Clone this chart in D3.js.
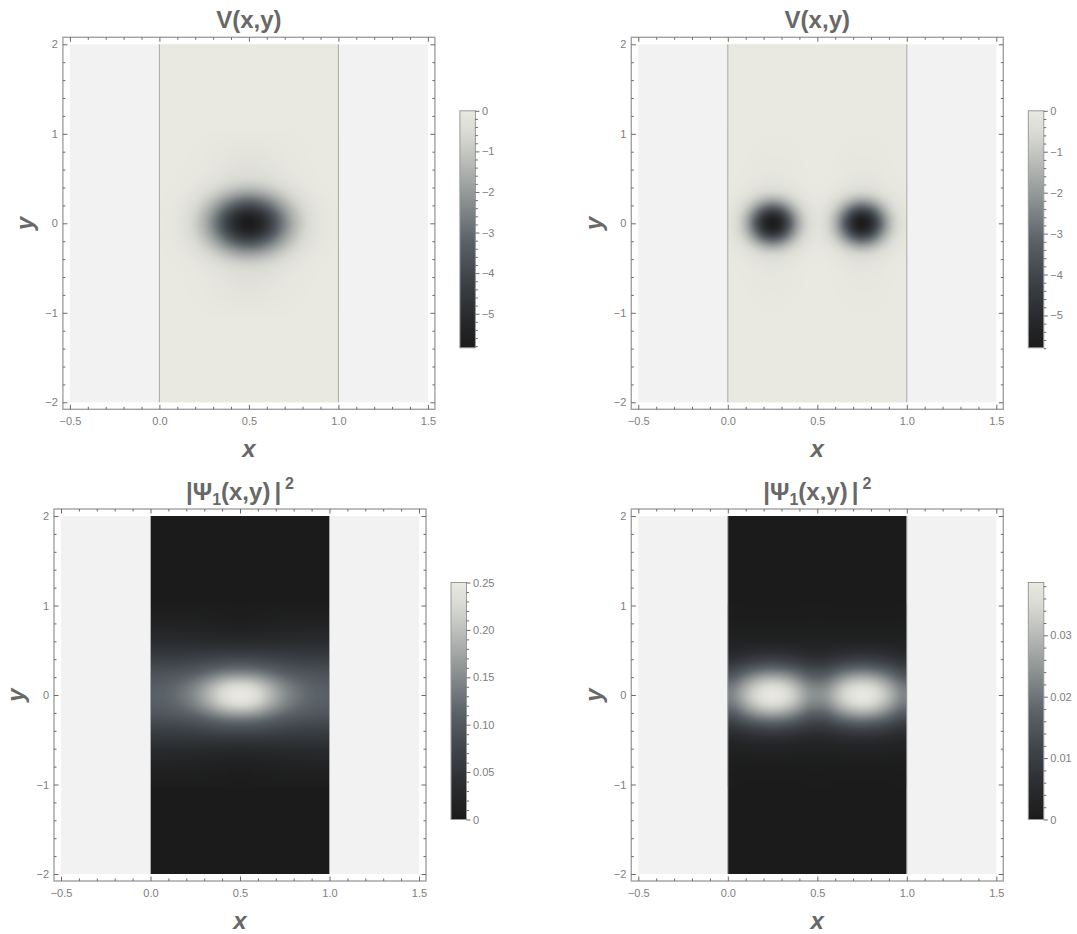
<!DOCTYPE html>
<meta charset="utf-8">
<script src="https://d3js.org/d3.v7.min.js"></script>
<style>
  body { margin: 0; background: #fff; }
  text { font-family: "Liberation Sans", Arial, sans-serif; }
</style>
<div id="chart"></div>
<script>
// sample grid: x from 0 to 1 in steps of 0.025, y from 1 down to -1 in steps of 0.05
var sampleX = d3.range(41).map(i => i / 40);
var sampleY = d3.range(41).map(i => 1 - i / 20);

// --- single well potential: depth and normalized profiles through the well centre
var wellDepth1 = -5.84;
var vShapeX1 = [.0045,.0076,.0125,.02,.031,.048,.071,.102,.143,.195,.259,.335,.421,.515,.615,.713,.805,.885,.947,.987,
                1,.987,.947,.885,.805,.713,.615,.515,.421,.335,.259,.195,.143,.102,.071,.048,.031,.02,.0125,.0076,.0045];
var vShapeY1 = [.01,.014,.019,.026,.033,.038,.043,.05,.06,.075,.1,.145,.21,.3,.41,.535,.665,.79,.9,.972,
                1,.972,.9,.79,.665,.535,.41,.3,.21,.145,.1,.075,.06,.05,.043,.038,.033,.026,.019,.014,.01];

// --- double well potential
var wellDepth2 = -5.79;
var vShapeX2 = [.025,.05,.094,.163,.264,.397,.553,.717,.863,.964,1,.964,.863,.717,.553,.397,.265,.165,.1,.062,
                .05,.062,.1,.165,.265,.397,.553,.717,.863,.964,1,.964,.863,.717,.553,.397,.264,.163,.094,.05,.025];
var vShapeY2 = [.003,.004,.005,.006,.008,.01,.012,.015,.018,.022,.03,.04,.065,.109,.196,.322,.485,.665,.834,.956,
                1,.956,.834,.665,.485,.322,.196,.109,.065,.04,.03,.022,.018,.015,.012,.01,.008,.006,.005,.004,.003];

// --- |psi|^2 for the single well: profile at the x=0 edge, through the peak (y), along y=0 (x)
var psiBandY1 = [.005,.007,.009,.012,.016,.02,.025,.03,.036,.043,.05,.058,.066,.075,.083,.09,.097,.102,.106,.109,
                 .11,.109,.106,.102,.097,.09,.083,.075,.066,.058,.05,.043,.036,.03,.025,.02,.016,.012,.009,.007,.005];
var psiPeakY1 = [.003,.004,.005,.007,.01,.013,.018,.024,.032,.042,.054,.068,.083,.1,.12,.145,.175,.205,.23,.245,
                 .25,.245,.23,.205,.175,.145,.12,.1,.083,.068,.054,.042,.032,.024,.018,.013,.01,.007,.005,.004,.003];
var psiPeakX1 = [.11,.111,.112,.114,.117,.12,.125,.13,.137,.145,.154,.165,.177,.19,.203,.216,.228,.238,.245,.249,
                 .25,.249,.245,.238,.228,.216,.203,.19,.177,.165,.154,.145,.137,.13,.125,.12,.117,.114,.112,.111,.11];

// --- |psi|^2 for the double well
var psiBandY2 = [.0002,.0003,.0004,.0005,.0007,.0009,.0012,.0016,.0022,.003,.004,.0053,.007,.009,.0115,.014,.0165,.019,.021,.0225,
                 .023,.0225,.021,.019,.0165,.014,.0115,.009,.007,.0053,.004,.003,.0022,.0016,.0012,.0009,.0007,.0005,.0004,.0003,.0002];
var psiPeakY2 = [.0001,.0002,.0003,.0004,.0006,.0009,.0013,.0019,.0027,.0039,.0055,.0077,.0105,.014,.0182,.0228,.0275,.032,.0355,.0378,
                 .0386,.0378,.0355,.032,.0275,.0228,.0182,.014,.0105,.0077,.0055,.0039,.0027,.0019,.0013,.0009,.0006,.0004,.0003,.0002,.0001];
var psiPeakX2 = [.022,.0228,.0245,.027,.0296,.032,.0342,.036,.0374,.0383,.0386,.0383,.0374,.036,.0342,.032,.0296,.0272,.0252,.0243,
                 .024,.0243,.0252,.0272,.0296,.032,.0342,.036,.0374,.0383,.0386,.0383,.0374,.036,.0342,.032,.0296,.027,.0245,.0228,.022];

// tick labels
var xTicks = [-0.5, 0, 0.5, 1, 1.5];
var yTicks = [-2, -1, 0, 1, 2];
var vBarTicks = [0, -1, -2, -3, -4, -5];
var psiBarTicks1 = [0, 0.05, 0.1, 0.15, 0.2, 0.25];
var psiBarTicks2 = [0, 0.01, 0.02, 0.03];

// gray tones colour scheme (dark -> light)
var grayStops = [0, .15, .3, .45, .6, .75, .9, 1];
var grayColors = ["#1b1b1b", "#2b2d30", "#40454a", "#5b6267", "#858b8c", "#b0b3b0", "#d8d9d3", "#e9e9e1"];
var gray = d3.scaleLinear().domain(grayStops).range(grayColors).clamp(true);

// build the value grids (rows = sampleY, columns = sampleX)
function productGrid(depth, shapeX, shapeY) {
  return shapeY.map(gy => shapeX.map(gx => depth * gx * gy));
}
function blendGrid(bandY, peakY, peakX) {
  var mid = (bandY.length - 1) / 2;
  var b0 = bandY[mid], p0 = peakY[mid];
  return bandY.map((b, j) => peakX.map(px => b + (px - b0) / (p0 - b0) * (peakY[j] - b)));
}

var panels = [
  {title: "V", grid: productGrid(wellDepth1, vShapeX1, vShapeY1), domain: [wellDepth1, 0],
   bar: vBarTicks, minor: 0.2, fmt: d3.format("d"), left: 69.9, top: 44.3},
  {title: "V", grid: productGrid(wellDepth2, vShapeX2, vShapeY2), domain: [wellDepth2, 0],
   bar: vBarTicks, minor: 0.2, fmt: d3.format("d"), left: 638.3, top: 44.3},
  {title: "psi", grid: blendGrid(psiBandY1, psiPeakY1, psiPeakX1), domain: [0, 0.25],
   bar: psiBarTicks1, minor: 0.01, fmt: d => d === 0 ? "0" : d3.format(".2f")(d), left: 61, top: 516},
  {title: "psi", grid: blendGrid(psiBandY2, psiPeakY2, psiPeakX2), domain: [0, 0.0386],
   bar: psiBarTicks2, minor: 0.002, fmt: d => d === 0 ? "0" : d3.format(".2f")(d), left: 638.3, top: 516}
];

var W = 358, H = 358, pad = 7;
var textGray = "#7d7d7d", titleGray = "#686868";

var svg = d3.select("#chart").append("svg")
    .attr("width", 1077)
    .attr("height", 934);
var defs = svg.append("defs");

// one gradient for all colour bars
var grad = defs.append("linearGradient").attr("id", "graybar")
    .attr("x1", 0).attr("y1", 1).attr("x2", 0).attr("y2", 0);
grad.selectAll("stop").data(grayStops).enter().append("stop")
    .attr("offset", d => d)
    .attr("stop-color", (d, i) => grayColors[i]);

function styleAxis(a) {
  a.select(".domain").remove();
  a.selectAll("line").attr("stroke", "#6a6a6a");
  a.selectAll("text").attr("fill", textGray).style("font-size", "11px")
    .style("font-family", "'Liberation Sans', Arial, sans-serif");
}

function minorOf(range, step, major) {
  var n = Math.round((range[1] - range[0]) / step);
  return d3.range(n + 1).map(i => range[0] + i * step)
    .filter(v => !major.some(m => Math.abs(m - v) < step / 10));
}

panels.forEach(function(p, k) {
  var g = svg.append("g").attr("transform", "translate(" + p.left + "," + p.top + ")");

  var x = d3.scaleLinear().domain([-0.5, 1.5]).range([0, W]);
  var y = d3.scaleLinear().domain([-2, 2]).range([H, 0]);
  var lo = p.domain[0], hi = p.domain[1];
  var colorOf = v => gray((v - lo) / (hi - lo));

  // frame and plot background
  g.append("rect").attr("x", -pad).attr("y", -pad).attr("width", W + 2 * pad).attr("height", H + 2 * pad)
    .attr("fill", "#fff").attr("stroke", "#a2a2a2").attr("stroke-width", 1.4);
  g.append("rect").attr("width", W).attr("height", H).attr("fill", "#f2f2f2");

  // the region 0<=x<=1
  var clipId = "clip" + k;
  defs.append("clipPath").attr("id", clipId).append("rect")
    .attr("x", x(0)).attr("y", y(2)).attr("width", x(1) - x(0)).attr("height", y(-2) - y(2));
  g.append("rect")
    .attr("x", x(0)).attr("y", y(2)).attr("width", x(1) - x(0)).attr("height", y(-2) - y(2))
    .attr("fill", colorOf(p.title === "V" ? 0 : lo));

  // draw the sampled grid into a small canvas, then let the canvas smooth it up
  var nx = sampleX.length, ny = sampleY.length;
  var small = document.createElement("canvas");
  small.width = nx; small.height = ny;
  var sctx = small.getContext("2d");
  var img = sctx.createImageData(nx, ny);
  p.grid.forEach(function(row, j) {
    row.forEach(function(v, i) {
      var c = d3.rgb(colorOf(v)), o = 4 * (j * nx + i);
      img.data[o] = c.r; img.data[o + 1] = c.g; img.data[o + 2] = c.b; img.data[o + 3] = 255;
    });
  });
  sctx.putImageData(img, 0, 0);

  var hx = (sampleX[1] - sampleX[0]) / 2, hy = (sampleY[0] - sampleY[1]) / 2;
  var ix0 = x(sampleX[0] - hx), ix1 = x(sampleX[nx - 1] + hx);
  var iy0 = y(sampleY[0] + hy), iy1 = y(sampleY[ny - 1] - hy);
  var big = document.createElement("canvas");
  big.width = Math.round((ix1 - ix0) * 2); big.height = Math.round((iy1 - iy0) * 2);
  var bctx = big.getContext("2d");
  bctx.imageSmoothingEnabled = true;
  bctx.imageSmoothingQuality = "high";
  bctx.drawImage(small, 0, 0, big.width, big.height);

  g.append("image")
    .attr("href", big.toDataURL())
    .attr("x", ix0).attr("y", iy0)
    .attr("width", ix1 - ix0).attr("height", iy1 - iy0)
    .attr("preserveAspectRatio", "none")
    .attr("clip-path", "url(#" + clipId + ")");

  // boundary of the region
  g.selectAll(".edge").data([0, 1]).enter().append("line")
    .attr("x1", d => x(d)).attr("x2", d => x(d))
    .attr("y1", y(2)).attr("y2", y(-2))
    .attr("stroke", "#a8a8a8").attr("stroke-width", 1);

  // frame ticks, pointing inward
  var xMinor = minorOf([-0.5, 1.5], 0.1, xTicks);
  var yMinor = minorOf([-2, 2], 0.2, yTicks);
  var sides = [
    {f: d3.axisBottom, s: x, t: "translate(0," + (H + pad) + ")", lab: true},
    {f: d3.axisTop, s: x, t: "translate(0," + (-pad) + ")", lab: false},
    {f: d3.axisLeft, s: y, t: "translate(" + (-pad) + ",0)", lab: true},
    {f: d3.axisRight, s: y, t: "translate(" + (W + pad) + ",0)", lab: false}
  ];
  sides.forEach(function(sd) {
    var isX = sd.s === x;
    var major = sd.f(sd.s).tickValues(isX ? xTicks : yTicks).tickSize(-4.5)
      .tickPadding(isX ? 8 : 5)
      .tickFormat(sd.lab ? (isX ? d3.format(".1f") : d3.format("d")) : "");
    g.append("g").attr("transform", sd.t).call(major).call(styleAxis);
    var minor = sd.f(sd.s).tickValues(isX ? xMinor : yMinor).tickSize(-2.5).tickFormat("");
    g.append("g").attr("transform", sd.t).call(minor).call(styleAxis);
  });

  // titles and axis labels
  var title = g.append("text").attr("x", W / 2).attr("y", -16)
    .attr("text-anchor", "middle").attr("fill", titleGray)
    .style("font-size", "24px").style("font-weight", "bold");
  if (p.title === "V") {
    title.text("V(x,y)");
  } else {
    title.append("tspan").text("|\u03A8");
    title.append("tspan").attr("dy", 5).style("font-size", "16px").text("1");
    title.append("tspan").attr("dy", -5).text("(x,y)");
    title.append("tspan").attr("dx", 4).text("|");
    title.append("tspan").attr("dx", 4).attr("dy", -11).style("font-size", "16px").text("2");
  }
  g.append("text").attr("x", W / 2).attr("y", H + 55)
    .attr("text-anchor", "middle").attr("fill", titleGray)
    .style("font-size", "24px").style("font-weight", "bold").style("font-style", "italic")
    .text("x");
  g.append("text").attr("transform", "translate(-45," + (H / 2) + ") rotate(-90)")
    .attr("dy", "0.35em")
    .attr("text-anchor", "middle").attr("fill", titleGray)
    .style("font-size", "24px").style("font-weight", "bold").style("font-style", "italic")
    .text("y");

  // colour bar
  var bw = 15.5, bh = 237;
  var cb = g.append("g").attr("transform", "translate(390," + 66.5 + ")");
  cb.append("rect").attr("width", bw).attr("height", bh)
    .attr("fill", "url(#graybar)").attr("stroke", "#9a9a9a").attr("stroke-width", 1);
  var c = d3.scaleLinear().domain(p.domain).range([bh, 0]);
  var cMinor = minorOf(p.domain[0] < 0 ? [-5.8, 0] : [0, Math.floor(hi / p.minor) * p.minor], p.minor, p.bar);
  cb.append("g").attr("transform", "translate(" + bw + ",0)")
    .call(d3.axisRight(c).tickValues(p.bar).tickSize(4).tickPadding(2.5).tickFormat(p.fmt))
    .call(styleAxis);
  cb.append("g").attr("transform", "translate(" + bw + ",0)")
    .call(d3.axisRight(c).tickValues(cMinor).tickSize(2.5).tickFormat(""))
    .call(styleAxis);
});
</script>
